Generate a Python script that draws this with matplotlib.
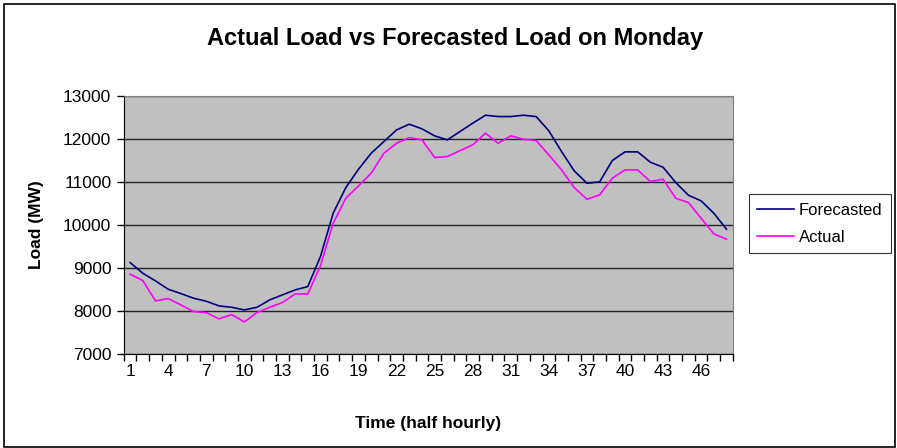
import matplotlib.pyplot as plt
import matplotlib.patches as patches
import numpy as np

# half-hourly periods
periods = np.arange(1, 49)

forecasted = [9124, 8876, 8698, 8504, 8403, 8295, 8225, 8116, 8085, 8023,
              8085, 8256, 8372, 8488, 8566, 9264, 10271, 10868, 11295, 11667,
              11938, 12209, 12341, 12233, 12070, 11977, 12171, 12364, 12550, 12519,
              12519, 12550, 12519, 12186, 11705, 11256, 10969, 11000, 11496, 11698,
              11698, 11457, 11341, 10984, 10690, 10558, 10271, 9899]

actual = [8853, 8706, 8233, 8287, 8140, 7984, 7961, 7814, 7915, 7744,
          7961, 8085, 8194, 8395, 8395, 9047, 10039, 10620, 10907, 11202,
          11667, 11899, 12031, 11977, 11566, 11589, 11729, 11860, 12132, 11899,
          12070, 11992, 11961, 11628, 11279, 10868, 10597, 10698, 11085, 11279,
          11279, 11008, 11062, 10620, 10519, 10155, 9791, 9667]

xtick_labels = [1, 4, 7, 10, 13, 16, 19, 22, 25, 28, 31, 34, 37, 40, 43, 46]

plt.rcParams['font.family'] = ['Liberation Sans', 'DejaVu Sans']

fig = plt.figure(figsize=(8.97, 4.48), dpi=100)
ax = fig.add_axes([0.138, 0.21, 0.679, 0.576])
ax.set_facecolor('#C0C0C0')

ax.plot(periods, forecasted, color='#000080', lw=1.2, label='Forecasted')
ax.plot(periods, actual, color='#FF00FF', lw=1.2, label='Actual')

ax.set_xlim(0.5, 48.5)
ax.set_ylim(7000, 13000)
ax.set_yticks(np.arange(7000, 13001, 1000))
ax.yaxis.grid(True, color='#222222', lw=1.0)
ax.set_axisbelow(True)

# ticks between categories, labels on the categories
ax.set_xticks(np.arange(0.5, 49, 1))
ax.set_xticklabels([])
ax.set_xticks(xtick_labels, minor=True)
ax.set_xticklabels([str(v) for v in xtick_labels], minor=True)
ax.tick_params(axis='x', which='major', length=5, width=1, color='black')
ax.tick_params(axis='x', which='minor', length=0, pad=7, labelsize=12.5)
ax.tick_params(axis='y', length=5, width=1, labelsize=12.5, pad=4)

for s in ['top', 'right']:
    ax.spines[s].set_color('#808080')
for s in ['left', 'bottom']:
    ax.spines[s].set_color('black')

ax.set_xlabel('Time (half hourly)', fontsize=12.5, fontweight='bold', labelpad=27)
ax.set_ylabel('Load (MW)', fontsize=12.5, fontweight='bold', labelpad=14)
fig.text(0.507, 0.913, 'Actual Load vs Forecasted Load on Monday', ha='center', va='center',
         fontsize=17, fontweight='bold')

leg = ax.legend(loc='center left', bbox_to_anchor=(1.026, 0.504), fontsize=12, frameon=True,
                fancybox=False, edgecolor='black', handlelength=2.2, handletextpad=0.3,
                borderpad=0.5, labelspacing=0.75, borderaxespad=0)
leg.get_frame().set_linewidth(0.8)

fig.patches.append(patches.Rectangle((0.004, 0.002), 0.994, 0.99, transform=fig.transFigure,
                                     fill=False, edgecolor='black', lw=1.2))

plt.savefig('out.png', dpi=100)
